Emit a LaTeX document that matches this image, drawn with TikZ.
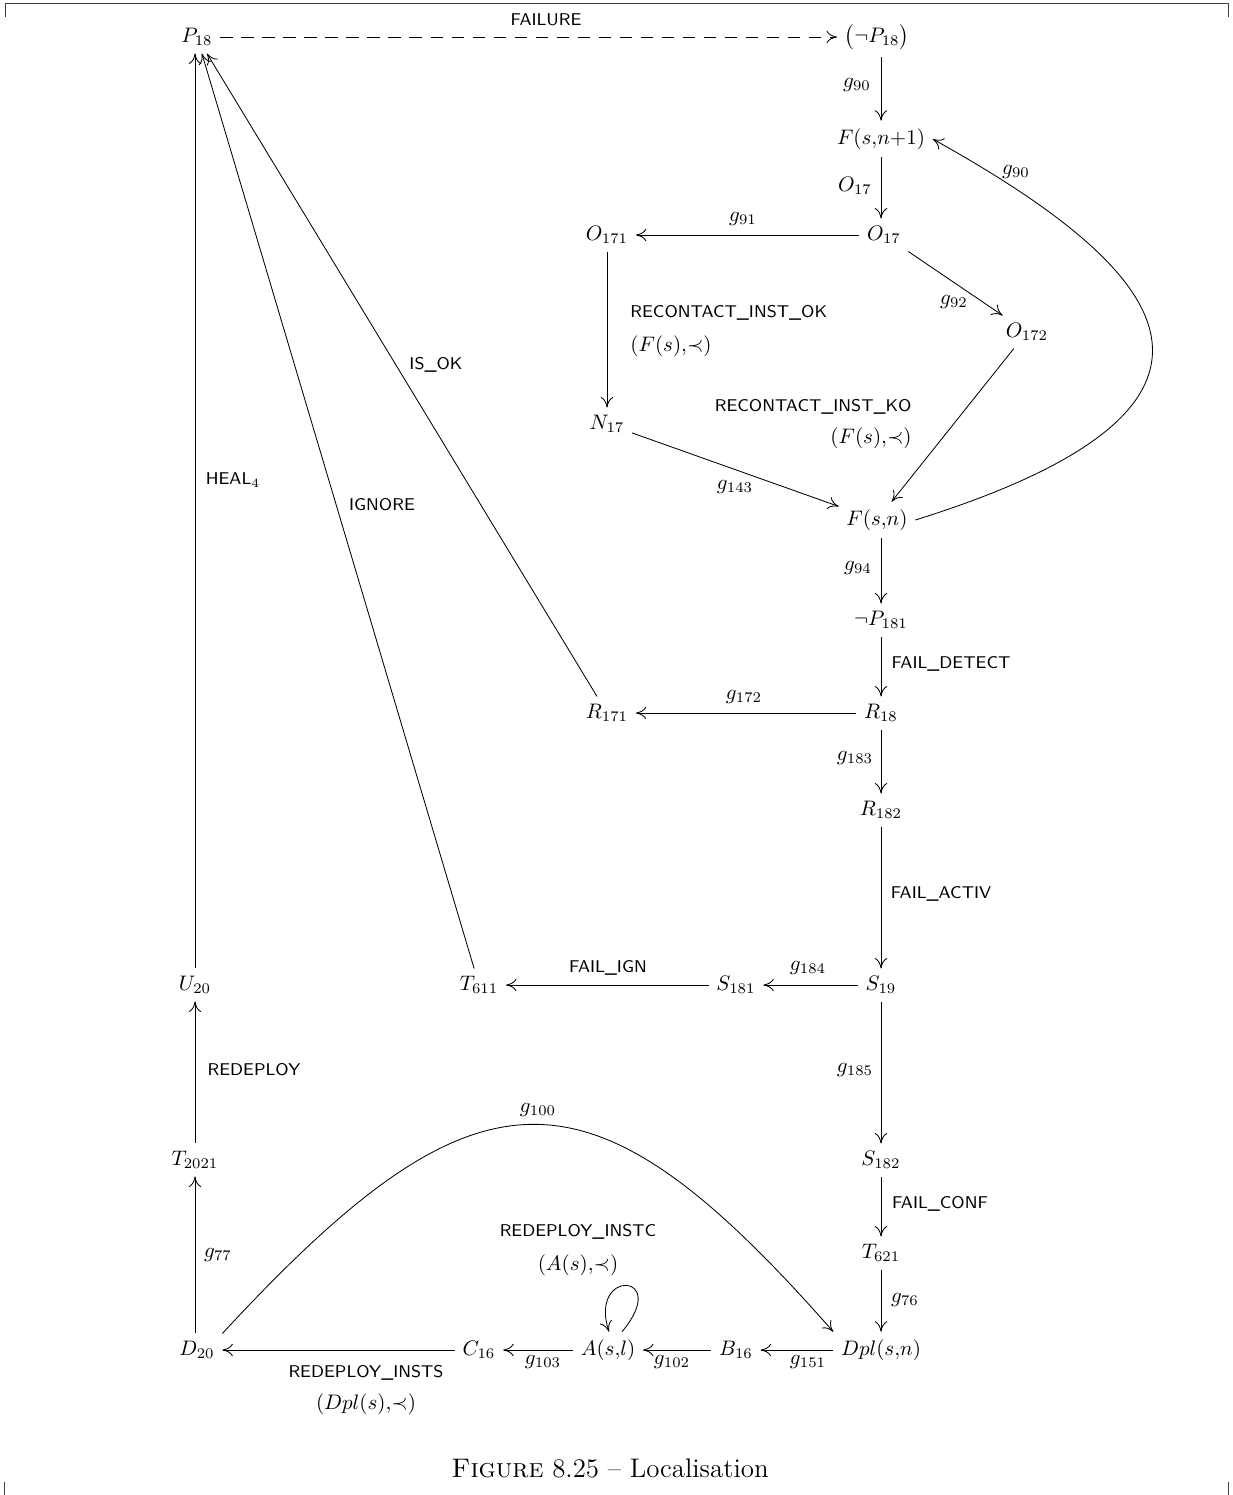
\documentclass[tikz,border=0pt]{standalone}
\usetikzlibrary{calc,arrows.meta}
\begin{document}
\begin{tikzpicture}[x=0.476pt,y=-0.476pt,
  st/.style={inner sep=3.5pt,font=\fontsize{10}{12}\selectfont},
  lb/.style={inner sep=0pt,font=\fontsize{10}{12}\selectfont},
  sl/.style={inner sep=0pt,font=\fontsize{8.1}{9.5}\sffamily},
  ar/.style={-{Computer Modern Rightarrow[length=5pt,width=6pt]},line width=0.4pt},
  frame/.style={line width=0.4pt,draw=black!75}]
\useasboundingbox (0,0) rectangle (1232,1495);
% page marks
\draw[frame] (5,17) -- (5,3) -- (1228,3) -- (1228,17);
\draw[frame] (4,1482) -- (4,1495);
\draw[frame] (1228,1482) -- (1228,1495);
% states
\node[st] (P18) at (197,37) {$P_{18}$};
\node[st] (nP18) at (877,37) {$\bigl(\neg P_{18}\bigr)$};
\node[st] (Fn1) at (881,139) {$F(s{,}n{+}1)$};
\node[st] (O17) at (884,235) {$O_{17}$};
\node[st] (O171) at (607,235) {$O_{171}$};
\node[st] (O172) at (1027,332) {$O_{172}$};
\node[st] (N17) at (607,424) {$N_{17}$};
\node[st] (Fn) at (877,520) {$F(s{,}n)$};
\node[st] (nP181) at (881,620) {$\neg P_{181}$};
\node[st] (R18) at (881,713) {$R_{18}$};
\node[st] (R171) at (607,713) {$R_{171}$};
\node[st] (R182) at (881,810) {$R_{182}$};
\node[st] (S19) at (881,985) {$S_{19}$};
\node[st] (S181) at (736,985) {$S_{181}$};
\node[st] (T611) at (479,985) {$T_{611}$};
\node[st] (U20) at (195,985) {$U_{20}$};
\node[st] (S182) at (881,1160) {$S_{182}$};
\node[st] (T2021) at (195,1160) {$T_{2021}$};
\node[st] (T621) at (881,1253) {$T_{621}$};
\node[st] (D20) at (197,1350) {$D_{20}$};
\node[st] (C16) at (479,1350) {$C_{16}$};
\node[st] (A) at (608,1350) {$A(s{,}l)$};
\node[st] (B16) at (736,1350) {$B_{16}$};
\node[st] (Dpl) at (881,1350) {$Dpl(s{,}n)$};
% connectors
\draw[ar,dash pattern=on 6pt off 4pt] (P18) -- (nP18);
\draw[ar] (nP18.south -| Fn1) -- (Fn1);
\draw[ar] (Fn1.south) -- (Fn1.south |- O17.north);
\draw[ar] (O17) -- (O171);
\draw[ar] (O17) -- (O172);
\draw[ar] (O171) -- (N17);
\draw[ar] (N17) -- (Fn);
\draw[ar] (O172) -- (Fn);
\draw[ar] (Fn.east) .. controls (1300,400) and (1150,260) .. (Fn1.east);
\draw[ar] (Fn.south -| nP181) -- (nP181);
\draw[ar] (nP181) -- (R18);
\draw[ar] (R18) -- (R171);
\draw[ar] (R18) -- (R182);
\draw[ar] (R182) -- (S19);
\draw[ar] (S19) -- (S181);
\draw[ar] (S181) -- (T611);
\draw[ar] (S19) -- (S182);
\draw[ar] (S182) -- (T621);
\draw[ar] (T621) -- (Dpl.north -| T621);
\draw[ar] (Dpl) -- (B16);
\draw[ar] (B16) -- (A);
\draw[ar] ($(A.north)+(14,0)$) .. controls (672,1272) and (588,1268) .. ($(A.north)+(1,0)$);
\draw[ar] (A) -- (C16);
\draw[ar] (C16) -- (D20);
\draw[ar] (D20.north east) .. controls (480,1055) and (590,1055) .. (Dpl.north west);
\draw[ar] (D20.north -| T2021) -- (T2021);
\draw[ar] (T2021) -- (U20);
\draw[ar] (U20.north) -- (U20.north |- P18.south);
\draw[ar] (T611) -- (P18);
\draw[ar] (R171) -- (P18);
% labels
\node[sl] (lFAIL) at (546,20) {FAILURE};
\node[lb] (l1) at (857,85) {$g_{90}$};
\node[lb] (l2) at (855,186) {$O_{17}$};
\node[lb] (l3) at (743,219) {$g_{91}$};
\node[lb] (l4) at (954,302) {$g_{92}$};
\node[sl,anchor=west] (l5) at (630,313) {RECONTACT\_INST\_OK};
\node[lb,anchor=west] (l6) at (630,346) {$(F(s){,}{\prec})$};
\node[sl,anchor=east] (l7) at (912,407) {RECONTACT\_INST\_KO};
\node[lb,anchor=east] (l8) at (912,438) {$(F(s){,}{\prec})$};
\node[lb] (l9) at (735,487) {$g_{143}$};
\node[lb] (l10) at (1016,172) {$g_{90}$};
\node[sl] (l11) at (436,365) {IS\_OK};
\node[sl] (l12) at (233,480) {HEAL$_4$};
\node[sl] (l13) at (382,505) {IGNORE};
\node[lb] (l14) at (858,568) {$g_{94}$};
\node[sl] (l15) at (951,664) {FAIL\_DETECT};
\node[lb] (l16) at (744,697) {$g_{172}$};
\node[lb] (l17) at (855,758) {$g_{183}$};
\node[sl] (l18) at (941,894) {FAIL\_ACTIV};
\node[lb] (l19) at (808,968) {$g_{184}$};
\node[sl] (l20) at (608,968) {FAIL\_IGN};
\node[lb] (l21) at (855,1070) {$g_{185}$};
\node[sl] (l22) at (254,1070) {REDEPLOY};
\node[lb] (l23) at (538,1110) {$g_{100}$};
\node[sl] (l24) at (940,1204) {FAIL\_CONF};
\node[sl] (l25) at (578,1232) {REDEPLOY\_INSTC};
\node[lb] (l26) at (578,1265) {$(A(s){,}{\prec})$};
\node[lb] (l27) at (218,1255) {$g_{77}$};
\node[lb] (l28) at (905,1300) {$g_{76}$};
\node[lb] (l29) at (808,1362) {$g_{151}$};
\node[lb] (l30) at (672,1362) {$g_{102}$};
\node[lb] (l31) at (543,1362) {$g_{103}$};
\node[sl] (l32) at (366,1373) {REDEPLOY\_INSTS};
\node[lb] (l33) at (366,1404) {$(Dpl(s){,}{\prec})$};
\node[inner sep=0pt,font=\fontsize{12.8}{15}\selectfont] (cap) at (610,1468) {\textsc{Figure} 8.25 -- Localisation};
\end{tikzpicture}
\end{document}
